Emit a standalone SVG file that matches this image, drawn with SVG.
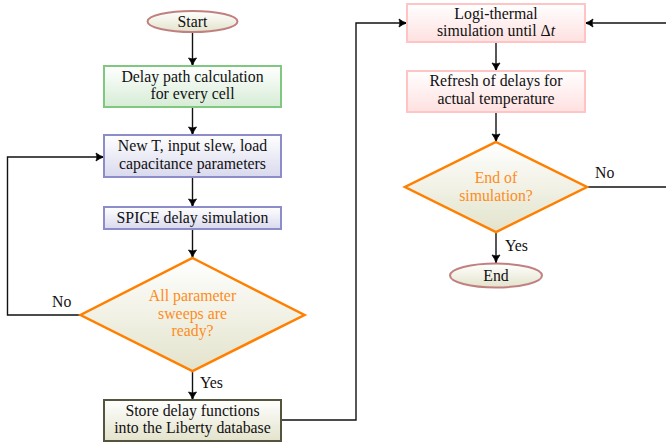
<svg xmlns="http://www.w3.org/2000/svg" width="666" height="443" viewBox="0 0 666 443">
  <defs>
    <linearGradient id="gGreen" x1="0" y1="0" x2="0" y2="1"><stop offset="0" stop-color="#ffffff"/><stop offset="1" stop-color="#d6ecd6"/></linearGradient>
    <linearGradient id="gBlue" x1="0" y1="0" x2="0" y2="1"><stop offset="0" stop-color="#ffffff"/><stop offset="1" stop-color="#d9d9ee"/></linearGradient>
    <linearGradient id="gOlive" x1="0" y1="0" x2="0" y2="1"><stop offset="0" stop-color="#ffffff"/><stop offset="1" stop-color="#e3e3cc"/></linearGradient>
    <linearGradient id="gPink" x1="0" y1="0" x2="0" y2="1"><stop offset="0" stop-color="#ffffff"/><stop offset="1" stop-color="#ffe0e0"/></linearGradient>
    <marker id="arr" viewBox="0 0 10 10" refX="9" refY="5" markerWidth="10" markerHeight="10" markerUnits="userSpaceOnUse" orient="auto">
      <path d="M1,1 Q5,4.2 9,5 Q5,5.8 1,9 Q3,5 1,1 Z" fill="#000" stroke="#000" stroke-width="0.8" stroke-linejoin="round"/>
    </marker>
    <style>
      text { font-family: 'Liberation Serif', Tinos, 'Times New Roman', 'Nimbus Roman', 'DejaVu Serif', serif; font-size: 15.8px; fill: #111; text-anchor: middle; }
      .q text { fill: #ff8c1a; }
      .lbl { text-anchor: start; }
      .term { stroke: #c08080; stroke-width: 2; fill: url(#gOlive); }
      .green { stroke: #80c880; stroke-width: 2; fill: url(#gGreen); }
      .blue { stroke: #8c8cc8; stroke-width: 2; fill: url(#gBlue); }
      .dec { stroke: #ff8000; stroke-width: 2.5; fill: url(#gOlive); stroke-linejoin: miter; }
      .store { stroke: #55553f; stroke-width: 2; fill: url(#gOlive); }
      .pink { stroke: #ffc4c4; stroke-width: 2; fill: url(#gPink); }
      .conn path { fill: none; stroke: #111; stroke-width: 1.4; }
    </style>
  </defs>
  <rect x="0" y="0" width="666" height="443" fill="#ffffff"/>

  <g id="connectors" class="conn">
    <path d="M192.5,32.5 V66" marker-end="url(#arr)"/>
    <path d="M192.5,107 V135" marker-end="url(#arr)"/>
    <path d="M192.5,177 V207" marker-end="url(#arr)"/>
    <path d="M192.5,229 V258" marker-end="url(#arr)"/>
    <path d="M192.5,371 V400" marker-end="url(#arr)"/>
    <path d="M80,315 H7.5 V157 H104" marker-end="url(#arr)"/>
    <path d="M281,420 H356 V23 H407" marker-end="url(#arr)"/>
    <path d="M496,42 V71" marker-end="url(#arr)"/>
    <path d="M496,112 V142" marker-end="url(#arr)"/>
    <path d="M496,232 V263" marker-end="url(#arr)"/>
    <path d="M587,187 H666"/>
    <path d="M666,23 H585" marker-end="url(#arr)"/>
    <text class="lbl" x="52" y="307">No</text>
    <text class="lbl" x="200" y="388">Yes</text>
    <text class="lbl" x="595" y="178">No</text>
    <text class="lbl" x="505" y="251">Yes</text>
  </g>

  <g id="start">
    <ellipse class="term" cx="192.5" cy="21.5" rx="45" ry="10.5"/>
    <text x="192.5" y="27">Start</text>
  </g>
  <g id="delay-path">
    <rect class="green" x="104" y="66" width="177" height="41"/>
    <text x="192.5" y="81.5">Delay path calculation</text>
    <text x="192.5" y="99">for every cell</text>
  </g>
  <g id="new-params">
    <rect class="blue" x="104" y="135" width="177" height="42"/>
    <text x="192.5" y="151">New T, input slew, load</text>
    <text x="192.5" y="168.5">capacitance parameters</text>
  </g>
  <g id="spice">
    <rect class="blue" x="104" y="207" width="177" height="22"/>
    <text x="192.5" y="222.5">SPICE delay simulation</text>
  </g>
  <g id="sweeps-ready" class="q">
    <polygon class="dec" points="192.5,258 304.5,315 192.5,371 80.5,315"/>
    <text x="192.5" y="301">All parameter</text>
    <text x="192.5" y="318.5">sweeps are</text>
    <text x="192.5" y="336">ready?</text>
  </g>
  <g id="store">
    <rect class="store" x="104" y="400" width="177" height="41"/>
    <text x="192.5" y="415.5">Store delay functions</text>
    <text x="192.5" y="433">into the Liberty database</text>
  </g>
  <g id="logi-thermal">
    <rect class="pink" x="407" y="4" width="178" height="38"/>
    <text x="496" y="18.5">Logi-thermal</text>
    <text x="496" y="36">simulation until Δ<tspan font-style="italic">t</tspan></text>
  </g>
  <g id="refresh">
    <rect class="pink" x="407" y="71" width="178" height="41"/>
    <text x="496" y="86">Refresh of delays for</text>
    <text x="496" y="103.5">actual temperature</text>
  </g>
  <g id="end-sim" class="q">
    <polygon class="dec" points="496,142 587,187 496,232 405,187"/>
    <text x="496" y="183">End of</text>
    <text x="496" y="200.5">simulation?</text>
  </g>
  <g id="end">
    <ellipse class="term" cx="496" cy="275.5" rx="46" ry="12"/>
    <text x="496" y="281">End</text>
  </g>
</svg>
